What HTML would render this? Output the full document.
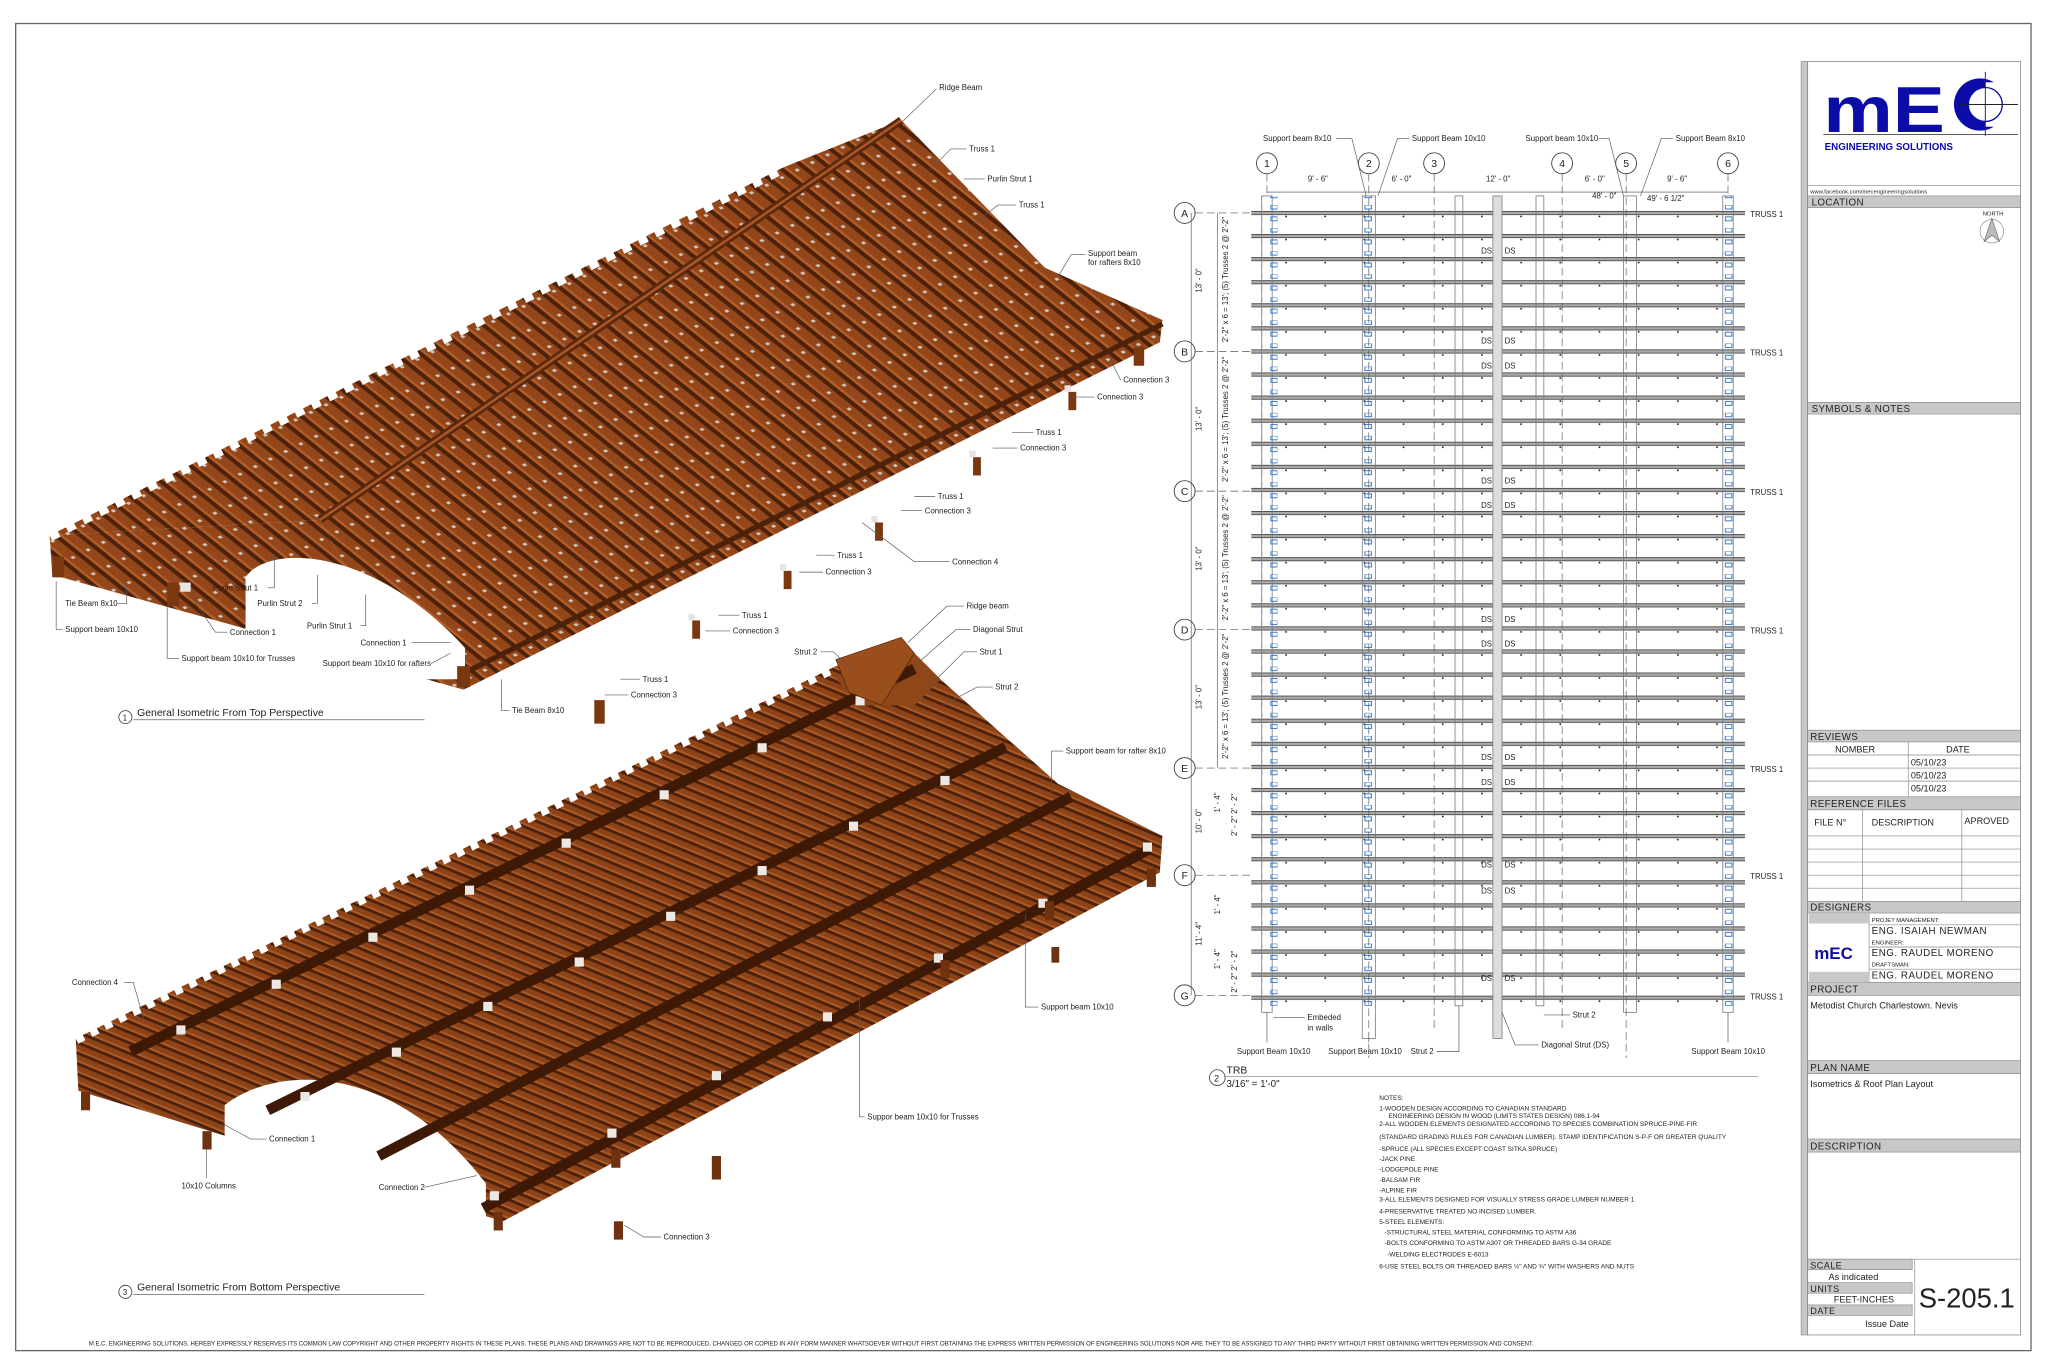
<!DOCTYPE html>
<html><head><meta charset="utf-8"><style>
html,body{margin:0;padding:0;background:#fff}
svg{display:block}
text{font-family:"Liberation Sans",sans-serif;fill:#222}
.l{font-size:6px}
.h{font-size:7.5px;letter-spacing:.3px}
.tb{font-size:7px}
.ld{stroke:#555;stroke-width:.5;fill:none}
</style></head><body>
<svg width="2048" height="1365" viewBox="0 0 1568 1045" preserveAspectRatio="none" xmlns="http://www.w3.org/2000/svg">
<defs>
<pattern id="raf" patternUnits="userSpaceOnUse" width="13" height="20" patternTransform="matrix(0.895,-0.446,0.781,0.625,0,0)">
<rect width="13" height="20" fill="#93461a"/>
<rect x="0" width="3.5" height="20" fill="#4e220a"/>
<rect x="3.5" width="2" height="20" fill="#b35e28"/>
<rect x="8" y="7" width="2.5" height="2.5" fill="#cfc6bd"/>
</pattern>
<pattern id="raf2" patternUnits="userSpaceOnUse" width="10" height="20" patternTransform="matrix(0.9,-0.435,0.924,0.382,0,0)">
<rect width="10" height="20" fill="#8c4318"/>
<rect x="0" width="3" height="20" fill="#4e220a"/>
<rect x="3" width="2" height="20" fill="#ad5b26"/>
</pattern>
<pattern id="trl" patternUnits="userSpaceOnUse" width="30" height="17.67" patternTransform="translate(0,161.5)">
<rect x="0" y="0" width="30" height="3" fill="#aaa"/>
<line x1="0" y1="0.3" x2="30" y2="0.3" stroke="#333" stroke-width="0.6"/>
<line x1="0" y1="2.8" x2="30" y2="2.8" stroke="#333" stroke-width="0.6"/>
<rect x="4" y="-1.6" width="1.2" height="1.2" fill="#111"/><rect x="10" y="-1.6" width="1.2" height="1.2" fill="#111"/><rect x="18" y="-1.6" width="1.2" height="1.2" fill="#111"/><rect x="24" y="3.6" width="1.2" height="1.2" fill="#111"/>
</pattern>
<pattern id="blu" patternUnits="userSpaceOnUse" width="12" height="17.67" patternTransform="translate(0,157)">
<rect x="1" y="0" width="5" height="3" fill="none" stroke="#3a7fd0" stroke-width="0.8"/>
<rect x="1" y="9" width="5" height="3" fill="none" stroke="#3a7fd0" stroke-width="0.8"/>
</pattern>
</defs>

<rect x="12" y="18" width="1543" height="1016" fill="none" stroke="#666" stroke-width="1"/>
<text x="68" y="1030" style="font-size:4.6px">M.E.C. ENGINEERING SOLUTIONS, HEREBY EXPRESSLY RESERVES ITS COMMON LAW COPYRIGHT AND OTHER PROPERTY RIGHTS IN THESE PLANS. THESE PLANS AND DRAWINGS ARE NOT TO BE REPRODUCED, CHANGED OR COPIED IN ANY FORM MANNER WHATSOEVER WITHOUT FIRST OBTAINING THE EXPRESS WRITTEN PERMISSION OF ENGINEERING SOLUTIONS NOR ARE THEY TO BE ASSIGNED TO ANY THIRD PARTY WITHOUT FIRST OBTAINING WRITTEN PERMISSION AND CONSENT.</text>

<!-- ===== TOP ISO ===== -->
<polygon points="38,410 600,128 690,92 245,398" fill="url(#raf)"/>
<polygon points="245,398 690,92 800,205 890,245 888,262 355,528 350,515 300,500" fill="url(#raf)"/>
<polygon points="38,410 245,398 300,500 350,515 355,528 40,440" fill="url(#raf)"/>
<line x1="38" y1="410" x2="600" y2="128" stroke="#fff" stroke-width="9" stroke-dasharray="7,7"/>
<line x1="245" y1="398" x2="690" y2="92" stroke="#5a280c" stroke-width="6"/>
<line x1="245" y1="398" x2="690" y2="92" stroke="#a85628" stroke-width="2"/>
<line x1="350" y1="518" x2="890" y2="248" stroke="#4e220a" stroke-width="4"/>
<path d="M188,442 C205,416 285,418 356,496 L356,520 L188,520 Z" fill="#fff"/>
<g fill="#7a3810">
<rect x="40" y="426" width="9" height="16"/><rect x="128" y="446" width="9" height="18"/><rect x="350" y="510" width="10" height="16"/><rect x="455" y="536" width="8" height="18"/>
<rect x="530" y="475" width="6" height="14"/><rect x="600" y="437" width="6" height="14"/><rect x="670" y="400" width="6" height="14"/><rect x="745" y="350" width="6" height="14"/><rect x="818" y="300" width="6" height="14"/><rect x="868" y="266" width="8" height="14"/>
</g>
<g fill="#e8e4e0"><rect x="527" y="470" width="5" height="5"/><rect x="597" y="432" width="5" height="5"/><rect x="667" y="395" width="5" height="5"/><rect x="742" y="345" width="5" height="5"/><rect x="815" y="295" width="5" height="5"/><rect x="138" y="446" width="8" height="7"/></g>

<g class="l">
<text x="719" y="69">Ridge Beam</text><path class="ld" d="M717,68 L690,94"/>
<text x="742" y="116">Truss 1</text><path class="ld" d="M740,114 L728,114 L712,130"/>
<text x="756" y="139">Purlin Strut 1</text><path class="ld" d="M754,137 L738,137"/>
<text x="780" y="159">Truss 1</text><path class="ld" d="M778,157 L764,157 L745,172"/>
<text x="833" y="196">Support beam</text><text x="833" y="203">for rafters 8x10</text><path class="ld" d="M831,195 L820,195 L810,212"/>
<text x="860" y="293">Connection 3</text><path class="ld" d="M858,291 L850,275"/>
<text x="840" y="306">Connection 3</text><path class="ld" d="M838,304 L818,304"/>
<text x="793" y="333">Truss 1</text><path class="ld" d="M791,331 L775,331"/>
<text x="781" y="345">Connection 3</text><path class="ld" d="M779,343 L760,343"/>
<text x="718" y="382">Truss 1</text><path class="ld" d="M716,380 L700,380"/>
<text x="708" y="393">Connection 3</text><path class="ld" d="M706,391 L690,391"/>
<text x="729" y="432">Connection 4</text><path class="ld" d="M727,430 L700,430 L660,400"/>
<text x="641" y="427">Truss 1</text><path class="ld" d="M639,425 L625,425"/>
<text x="632" y="440">Connection 3</text><path class="ld" d="M630,438 L612,438"/>
<text x="568" y="473">Truss 1</text><path class="ld" d="M566,471 L550,471"/>
<text x="561" y="485">Connection 3</text><path class="ld" d="M559,483 L540,483"/>
<text x="492" y="522">Truss 1</text><path class="ld" d="M490,520 L475,520"/>
<text x="483" y="534">Connection 3</text><path class="ld" d="M481,532 L463,532"/>
<text x="392" y="546">Tie Beam 8x10</text><path class="ld" d="M390,544 L384,544 L384,520"/>
<text x="163" y="452">Purlin Strut 1</text><path class="ld" d="M205,450 L210,450 L210,425"/>
<text x="197" y="464">Purlin Strut 2</text><path class="ld" d="M239,462 L243,462 L243,440"/>
<text x="235" y="481">Purlin Strut 1</text><path class="ld" d="M276,479 L280,479 L280,455"/>
<text x="50" y="464">Tie Beam 8x10</text><path class="ld" d="M90,462 L97,462 L97,445"/>
<text x="176" y="486">Connection 1</text><path class="ld" d="M174,484 L165,484 L145,455"/>
<text x="50" y="484">Support beam 10x10</text><path class="ld" d="M48,482 L43,482 L43,445"/>
<text x="139" y="506">Support beam 10x10 for Trusses</text><path class="ld" d="M137,504 L128,504 L128,465"/>
<text x="276" y="494">Connection 1</text><path class="ld" d="M315,492 L345,492"/>
<text x="247" y="510">Support beam 10x10 for rafters</text><path class="ld" d="M330,508 L345,500"/>
</g>
<circle cx="96" cy="549" r="5" fill="none" stroke="#333" stroke-width=".6"/><text x="94" y="551.5" style="font-size:6px">1</text>
<text x="105" y="548" style="font-size:8px">General Isometric From Top Perspective</text>
<line x1="102" y1="551" x2="325" y2="551" stroke="#666" stroke-width=".6"/>

<!-- ===== BOTTOM ISO ===== -->
<polygon points="58,795 640,510 660,505 690,490 720,520 810,600 890,640 888,668 385,935 60,835" fill="url(#raf2)"/>
<line x1="58" y1="795" x2="640" y2="510" stroke="#fff" stroke-width="9" stroke-dasharray="6,6"/>
<polygon points="640,520 690,490 720,520 700,540 660,540" fill="#8f4618"/>
<path d="M172,846 C212,815 300,812 372,906 L372,940 L172,940 Z" fill="#fff"/>
<g stroke="#3e1906" stroke-width="8" stroke-linecap="butt">
<line x1="100" y1="805" x2="700" y2="512"/>
<line x1="205" y1="850" x2="770" y2="572"/>
<line x1="290" y1="885" x2="820" y2="610"/>
<line x1="370" y1="925" x2="880" y2="650"/>
</g>
<g fill="#ece8e4">
<rect x="135" y="785" width="7" height="7"/><rect x="208" y="750" width="7" height="7"/><rect x="282" y="714" width="7" height="7"/><rect x="356" y="678" width="7" height="7"/><rect x="430" y="642" width="7" height="7"/><rect x="505" y="605" width="7" height="7"/><rect x="580" y="569" width="7" height="7"/><rect x="655" y="533" width="7" height="7"/>
<rect x="230" y="836" width="7" height="7"/><rect x="300" y="802" width="7" height="7"/><rect x="370" y="767" width="7" height="7"/><rect x="440" y="733" width="7" height="7"/><rect x="510" y="698" width="7" height="7"/><rect x="580" y="663" width="7" height="7"/><rect x="650" y="629" width="7" height="7"/><rect x="720" y="594" width="7" height="7"/>
<rect x="375" y="912" width="7" height="7"/><rect x="465" y="864" width="7" height="7"/><rect x="545" y="820" width="7" height="7"/><rect x="630" y="775" width="7" height="7"/><rect x="715" y="730" width="7" height="7"/><rect x="795" y="688" width="7" height="7"/><rect x="875" y="645" width="7" height="7"/>
</g>
<g fill="#6e3210">
<rect x="62" y="836" width="7" height="14"/><rect x="155" y="866" width="7" height="14"/><rect x="378" y="928" width="7" height="14"/><rect x="468" y="880" width="7" height="14"/><rect x="545" y="885" width="7" height="18"/><rect x="470" y="935" width="7" height="14"/><rect x="720" y="735" width="7" height="14"/><rect x="800" y="690" width="7" height="14"/><rect x="878" y="665" width="7" height="14"/><rect x="805" y="725" width="6" height="12"/>
</g>
<polygon points="640,505 690,488 700,500 675,540 650,530" fill="#9a4e1c" stroke="#5a290c" stroke-width=".6"/>
<g class="l">
<text x="740" y="466">Ridge beam</text><path class="ld" d="M738,464 L725,464 L695,492"/>
<text x="745" y="484">Diagonal Strut</text><path class="ld" d="M743,482 L732,482 L700,510"/>
<text x="750" y="501">Strut 1</text><path class="ld" d="M748,499 L738,499 L712,525"/>
<text x="762" y="528">Strut 2</text><path class="ld" d="M760,526 L748,526 L722,540"/>
<text x="608" y="501">Strut 2</text><path class="ld" d="M628,499 L638,499 L655,515"/>
<text x="816" y="577">Support beam for rafter 8x10</text><path class="ld" d="M814,575 L805,575 L805,610"/>
<text x="797" y="773">Support beam 10x10</text><path class="ld" d="M795,771 L785,771 L785,700"/>
<text x="664" y="857">Suppor beam 10x10 for Trusses</text><path class="ld" d="M662,855 L658,855 L658,760"/>
<text x="55" y="754">Connection 4</text><path class="ld" d="M95,752 L102,752 L110,780"/>
<text x="206" y="874">Connection 1</text><path class="ld" d="M204,872 L192,872 L170,860"/>
<text x="139" y="910">10x10 Columns</text><path class="ld" d="M158,902 L158,880"/>
<text x="290" y="911">Connection 2</text><path class="ld" d="M325,909 L365,900"/>
<text x="508" y="949">Connection 3</text><path class="ld" d="M506,947 L493,947 L478,938"/>
</g>
<circle cx="96" cy="989" r="5" fill="none" stroke="#333" stroke-width=".6"/><text x="94" y="991.5" style="font-size:6px">3</text>
<text x="105" y="988" style="font-size:8px">General Isometric From Bottom Perspective</text>
<line x1="102" y1="991" x2="325" y2="991" stroke="#666" stroke-width=".6"/>

<!-- ===== PLAN ===== -->
<rect x="958" y="158" width="378" height="610" fill="url(#trl)"/>
<g fill="none" stroke="#777" stroke-width=".6">
<rect x="966" y="150" width="8" height="625"/>
<rect x="1043" y="150" width="10" height="645"/>
<rect x="1114" y="150" width="6" height="620"/>
<rect x="1143" y="150" width="7" height="645" fill="#ddd"/>
<rect x="1176" y="150" width="6" height="620"/>
<rect x="1243" y="150" width="10" height="625"/>
<rect x="1319" y="150" width="8" height="625"/>
</g>
<rect x="966" y="150" width="12" height="620" fill="url(#blu)"/>
<rect x="1043" y="150" width="12" height="620" fill="url(#blu)"/>
<rect x="1319" y="150" width="12" height="620" fill="url(#blu)"/>
<g stroke="#555" stroke-width=".5" stroke-dasharray="6,3">
<line x1="970" y1="133" x2="970" y2="150"/><line x1="1048" y1="133" x2="1048" y2="810"/><line x1="1098" y1="133" x2="1098" y2="790"/><line x1="1196" y1="133" x2="1196" y2="790"/><line x1="1245" y1="133" x2="1245" y2="810"/><line x1="1323" y1="133" x2="1323" y2="150"/>
<line x1="915" y1="163" x2="960" y2="163"/><line x1="915" y1="269" x2="960" y2="269"/><line x1="915" y1="376" x2="960" y2="376"/><line x1="915" y1="482" x2="960" y2="482"/><line x1="915" y1="588" x2="960" y2="588"/><line x1="915" y1="670" x2="960" y2="670"/><line x1="915" y1="762" x2="960" y2="762"/>
</g>
<g fill="#fff" stroke="#444" stroke-width=".7">
<circle cx="970" cy="125" r="8"/><circle cx="1048" cy="125" r="8"/><circle cx="1098" cy="125" r="8"/><circle cx="1196" cy="125" r="8"/><circle cx="1245" cy="125" r="8"/><circle cx="1323" cy="125" r="8"/>
<circle cx="907" cy="163" r="8"/><circle cx="907" cy="269" r="8"/><circle cx="907" cy="376" r="8"/><circle cx="907" cy="482" r="8"/><circle cx="907" cy="588" r="8"/><circle cx="907" cy="670" r="8"/><circle cx="907" cy="762" r="8"/>
</g>
<g style="font-size:8px" text-anchor="middle">
<text x="970" y="128">1</text><text x="1048" y="128">2</text><text x="1098" y="128">3</text><text x="1196" y="128">4</text><text x="1245" y="128">5</text><text x="1323" y="128">6</text>
<text x="907" y="166">A</text><text x="907" y="272">B</text><text x="907" y="379">C</text><text x="907" y="485">D</text><text x="907" y="591">E</text><text x="907" y="673">F</text><text x="907" y="765">G</text>
</g>
<line x1="970" y1="147" x2="1323" y2="147" stroke="#444" stroke-width=".5"/>
<g class="l" text-anchor="middle">
<text x="1009" y="139">9' - 6"</text><text x="1073" y="139">6' - 0"</text><text x="1147" y="139">12' - 0"</text><text x="1221" y="139">6' - 0"</text><text x="1284" y="139">9' - 6"</text>
</g>
<g class="l">
<text x="967" y="108">Support beam 8x10</text><text x="1081" y="108">Support Beam 10x10</text><text x="1168" y="108">Support beam 10x10</text><text x="1283" y="108">Support Beam 8x10</text>
<path class="ld" d="M1023,106 L1035,106 L1046,150 M1079,106 L1070,106 L1055,150 M1224,106 L1232,106 L1243,150 M1281,106 L1272,106 L1256,150"/>
<text x="1219" y="152">48' - 0"</text><text x="1261" y="154">49' - 6 1/2"</text>
<text x="1340" y="166">TRUSS 1</text><text x="1340" y="272">TRUSS 1</text><text x="1340" y="379">TRUSS 1</text><text x="1340" y="485">TRUSS 1</text><text x="1340" y="591">TRUSS 1</text><text x="1340" y="673">TRUSS 1</text><text x="1340" y="765">TRUSS 1</text>
<text x="1134" y="194">DS</text><text x="1152" y="194">DS</text><text x="1134" y="263">DS</text><text x="1152" y="263">DS</text><text x="1134" y="282">DS</text><text x="1152" y="282">DS</text>
<text x="1134" y="370">DS</text><text x="1152" y="370">DS</text><text x="1134" y="389">DS</text><text x="1152" y="389">DS</text>
<text x="1134" y="476">DS</text><text x="1152" y="476">DS</text><text x="1134" y="495">DS</text><text x="1152" y="495">DS</text>
<text x="1134" y="582">DS</text><text x="1152" y="582">DS</text><text x="1134" y="601">DS</text><text x="1152" y="601">DS</text>
<text x="1134" y="664">DS</text><text x="1152" y="664">DS</text><text x="1134" y="684">DS</text><text x="1152" y="684">DS</text><text x="1134" y="751">DS</text><text x="1152" y="751">DS</text>
<text x="1001" y="781">Embeded</text><text x="1001" y="789">in walls</text><path class="ld" d="M999,779 L975,779"/>
<text x="1204" y="779">Strut 2</text><path class="ld" d="M1202,777 L1182,777"/>
<text x="947" y="807">Support Beam 10x10</text><text x="1017" y="807">Support Beam 10x10</text><text x="1080" y="807">Strut 2</text><text x="1180" y="802">Diagonal Strut (DS)</text><text x="1295" y="807">Support Beam 10x10</text>
<path class="ld" d="M970,775 L970,798 M1048,795 L1048,798 M1100,805 L1117,805 L1117,770 M1178,800 L1160,800 L1150,775 M1323,775 L1323,798"/>
</g>
<g class="l">
<text transform="translate(920,224) rotate(-90)">13' - 0"</text>
<text transform="translate(920,330) rotate(-90)">13' - 0"</text>
<text transform="translate(920,437) rotate(-90)">13' - 0"</text>
<text transform="translate(920,543) rotate(-90)">13' - 0"</text>
<text transform="translate(920,638) rotate(-90)">10' - 0"</text>
<text transform="translate(920,724) rotate(-90)">11' - 4"</text>
<text transform="translate(940,262) rotate(-90)">2'-2" x 6 = 13'; (5) Trusses 2 @ 2'-2"</text>
<text transform="translate(940,369) rotate(-90)">2'-2" x 6 = 13'; (5) Trusses 2 @ 2'-2"</text>
<text transform="translate(940,475) rotate(-90)">2'-2" x 6 = 13'; (5) Trusses 2 @ 2'-2"</text>
<text transform="translate(940,581) rotate(-90)">2'-2" x 6 = 13'; (5) Trusses 2 @ 2'-2"</text>
<text transform="translate(934,622) rotate(-90)">1' - 4"</text><text transform="translate(947,640) rotate(-90)">2' - 2" 2' - 2"</text>
<text transform="translate(934,700) rotate(-90)">1' - 4"</text><text transform="translate(934,742) rotate(-90)">1' - 4"</text>
<text transform="translate(947,760) rotate(-90)">2' - 2" 2' - 2"</text>
</g>
<line x1="912" y1="163" x2="912" y2="762" stroke="#555" stroke-width=".5"/>
<line x1="932" y1="163" x2="932" y2="588" stroke="#555" stroke-width=".5"/>
<circle cx="932" cy="825" r="6" fill="none" stroke="#333" stroke-width=".6"/><text x="929.5" y="828" style="font-size:7px">2</text>
<text x="939" y="822" style="font-size:8px">TRB</text><text x="939" y="832" style="font-size:7.5px">3/16" = 1'-0"</text>
<line x1="937" y1="824" x2="1346" y2="824" stroke="#777" stroke-width=".5"/>

<g style="font-size:5px">
<text x="1056" y="842">NOTES:</text>
<text x="1056" y="850">1-WOODEN DESIGN ACCORDING TO CANADIAN STANDARD</text>
<text x="1063" y="856">ENGINEERING DESIGN IN WOOD (LIMITS STATES DESIGN) 086.1-94</text>
<text x="1056" y="862">2-ALL WOODEN ELEMENTS  DESIGNATED ACCORDING TO SPECIES COMBINATION SPRUCE-PINE-FIR</text>
<text x="1056" y="872">(STANDARD GRADING RULES FOR CANADIAN LUMBER). STAMP IDENTIFICATION S-P-F OR GREATER QUALITY</text>
<text x="1056" y="881">-SPRUCE (ALL SPECIES EXCEPT COAST SITKA SPRUCE)</text>
<text x="1056" y="889">-JACK PINE</text>
<text x="1056" y="897">-LODGEPOLE PINE</text>
<text x="1056" y="905">-BALSAM FIR</text>
<text x="1056" y="913">-ALPINE FIR</text>
<text x="1056" y="920">3-ALL ELEMENTS  DESIGNED FOR VISUALLY STRESS GRADE LUMBER NUMBER 1</text>
<text x="1056" y="929">4-PRESERVATIVE TREATED NO INCISED LUMBER.</text>
<text x="1056" y="937">5-STEEL ELEMENTS:</text>
<text x="1060" y="945">-STRUCTURAL STEEL MATERIAL CONFORMING TO ASTM A36</text>
<text x="1060" y="953">-BOLTS CONFORMING TO ASTM A307 OR THREADED BARS G-34 GRADE</text>
<text x="1062" y="962">-WELDING ELECTRODES E-6013</text>
<text x="1056" y="971">6-USE STEEL BOLTS OR THREADED BARS     ½" AND   ¾" WITH WASHERS AND NUTS</text>
</g>

<!-- ===== TITLE BLOCK ===== -->
<rect x="1379" y="47" width="5" height="975" fill="#c8c8c8" stroke="#888" stroke-width=".5"/>
<rect x="1384" y="47" width="163" height="975" fill="none" stroke="#888" stroke-width=".6"/>
<text x="1396" y="101" style="font-size:50px;font-weight:bold;fill:#0c0ca8" textLength="93" lengthAdjust="spacingAndGlyphs">mE</text>
<circle cx="1516" cy="80" r="20" fill="#0c0ca8"/>
<circle cx="1520" cy="80" r="13" fill="#fff"/>
<rect x="1520" y="63" width="24" height="34" fill="#fff"/>
<circle cx="1520" cy="80" r="13" fill="none" stroke="#0c0ca8" stroke-width="1"/>
<line x1="1498" y1="80" x2="1545" y2="80" stroke="#222" stroke-width=".7"/>
<line x1="1520" y1="55" x2="1520" y2="104" stroke="#222" stroke-width=".7"/>
<line x1="1396" y1="103" x2="1545" y2="103" stroke="#444" stroke-width=".7"/>
<text x="1397" y="115" style="font-size:7.5px;font-weight:bold;fill:#0c0ca8">ENGINEERING SOLUTIONS</text>
<line x1="1384" y1="142" x2="1547" y2="142" stroke="#888" stroke-width=".5"/>
<text x="1386" y="148" style="font-size:4.5px">www.facebook.com/mecengineeringsolutions</text>
<g fill="#c8c8c8" stroke="#888" stroke-width=".5">
<rect x="1384" y="150" width="163" height="9"/>
<rect x="1384" y="308" width="163" height="9"/>
<rect x="1384" y="559" width="163" height="9"/>
<rect x="1384" y="610" width="163" height="10"/>
<rect x="1384" y="690" width="163" height="9"/>
<rect x="1384" y="752" width="163" height="10"/>
<rect x="1384" y="812" width="163" height="10"/>
<rect x="1384" y="872" width="163" height="10"/>
<rect x="1384" y="964" width="80" height="8"/>
<rect x="1384" y="982" width="80" height="8"/>
<rect x="1384" y="999" width="80" height="8"/>
</g>
<g class="h">
<text x="1387" y="157.5">LOCATION</text><text x="1387" y="315.5">SYMBOLS &amp; NOTES</text><text x="1386" y="566.5">REVIEWS</text><text x="1386" y="618">REFERENCE FILES</text><text x="1386" y="697">DESIGNERS</text><text x="1386" y="760">PROJECT</text><text x="1386" y="820">PLAN NAME</text><text x="1386" y="880">DESCRIPTION</text>
<text x="1386" y="971" style="font-size:7px">SCALE</text><text x="1386" y="989" style="font-size:7px">UNITS</text><text x="1386" y="1006" style="font-size:7px">DATE</text>
</g>
<text x="1518" y="165" style="font-size:4.5px">NORTH</text>
<circle cx="1525" cy="177" r="9" fill="none" stroke="#888" stroke-width=".5"/>
<polygon points="1525,167 1519,185 1525,180 1531,185" fill="#bbb" stroke="#555" stroke-width=".4"/>
<g stroke="#888" stroke-width=".5" fill="none">
<line x1="1384" y1="578" x2="1547" y2="578"/><line x1="1384" y1="588" x2="1547" y2="588"/><line x1="1384" y1="598" x2="1547" y2="598"/><line x1="1461" y1="568" x2="1461" y2="610"/>
<line x1="1384" y1="640" x2="1547" y2="640"/><line x1="1384" y1="650" x2="1547" y2="650"/><line x1="1384" y1="660" x2="1547" y2="660"/><line x1="1384" y1="670" x2="1547" y2="670"/><line x1="1384" y1="680" x2="1547" y2="680"/>
<line x1="1426" y1="620" x2="1426" y2="690"/><line x1="1502" y1="620" x2="1502" y2="690"/>
<line x1="1431" y1="708" x2="1547" y2="708"/><line x1="1431" y1="725" x2="1547" y2="725"/><line x1="1431" y1="742" x2="1547" y2="742"/><line x1="1431" y1="699" x2="1431" y2="752"/>
<line x1="1466" y1="964" x2="1466" y2="1022"/><line x1="1384" y1="964" x2="1547" y2="964"/>
</g>
<rect x="1385" y="699" width="46" height="8" fill="#c8c8c8"/><rect x="1385" y="744" width="46" height="8" fill="#c8c8c8"/>
<text x="1389" y="734" style="font-size:13px;font-weight:bold;fill:#0c0ca8">mEC</text>
<g class="tb">
<text x="1405" y="576">NOMBER</text><text x="1490" y="576">DATE</text>
<text x="1463" y="586">05/10/23</text><text x="1463" y="596">05/10/23</text><text x="1463" y="606">05/10/23</text>
<text x="1389" y="632">FILE N°</text><text x="1433" y="632">DESCRIPTION</text><text x="1504" y="631">APROVED</text>
<text x="1433" y="706" style="font-size:4.5px">PROJET MANAGEMENT:</text><text x="1433" y="715" style="font-size:7.5px;letter-spacing:.4px">ENG. ISAIAH NEWMAN</text>
<text x="1433" y="723" style="font-size:4.5px">ENGINEER:</text><text x="1433" y="732" style="font-size:7.5px;letter-spacing:.4px">ENG. RAUDEL MORENO</text>
<text x="1433" y="740" style="font-size:4.5px">DRAFTSMAN:</text><text x="1433" y="749" style="font-size:7.5px;letter-spacing:.4px">ENG. RAUDEL MORENO</text>
<text x="1386" y="772">Metodist Church Charlestown. Nevis</text>
<text x="1386" y="832">Isometrics &amp; Roof Plan Layout</text>
<text x="1400" y="980">As indicated</text>
<text x="1404" y="997">FEET-INCHES</text>
<text x="1428" y="1016">Issue Date</text>
</g>
<text x="1469" y="1001" style="font-size:21px">S-205.1</text>
</svg>
</body></html>
